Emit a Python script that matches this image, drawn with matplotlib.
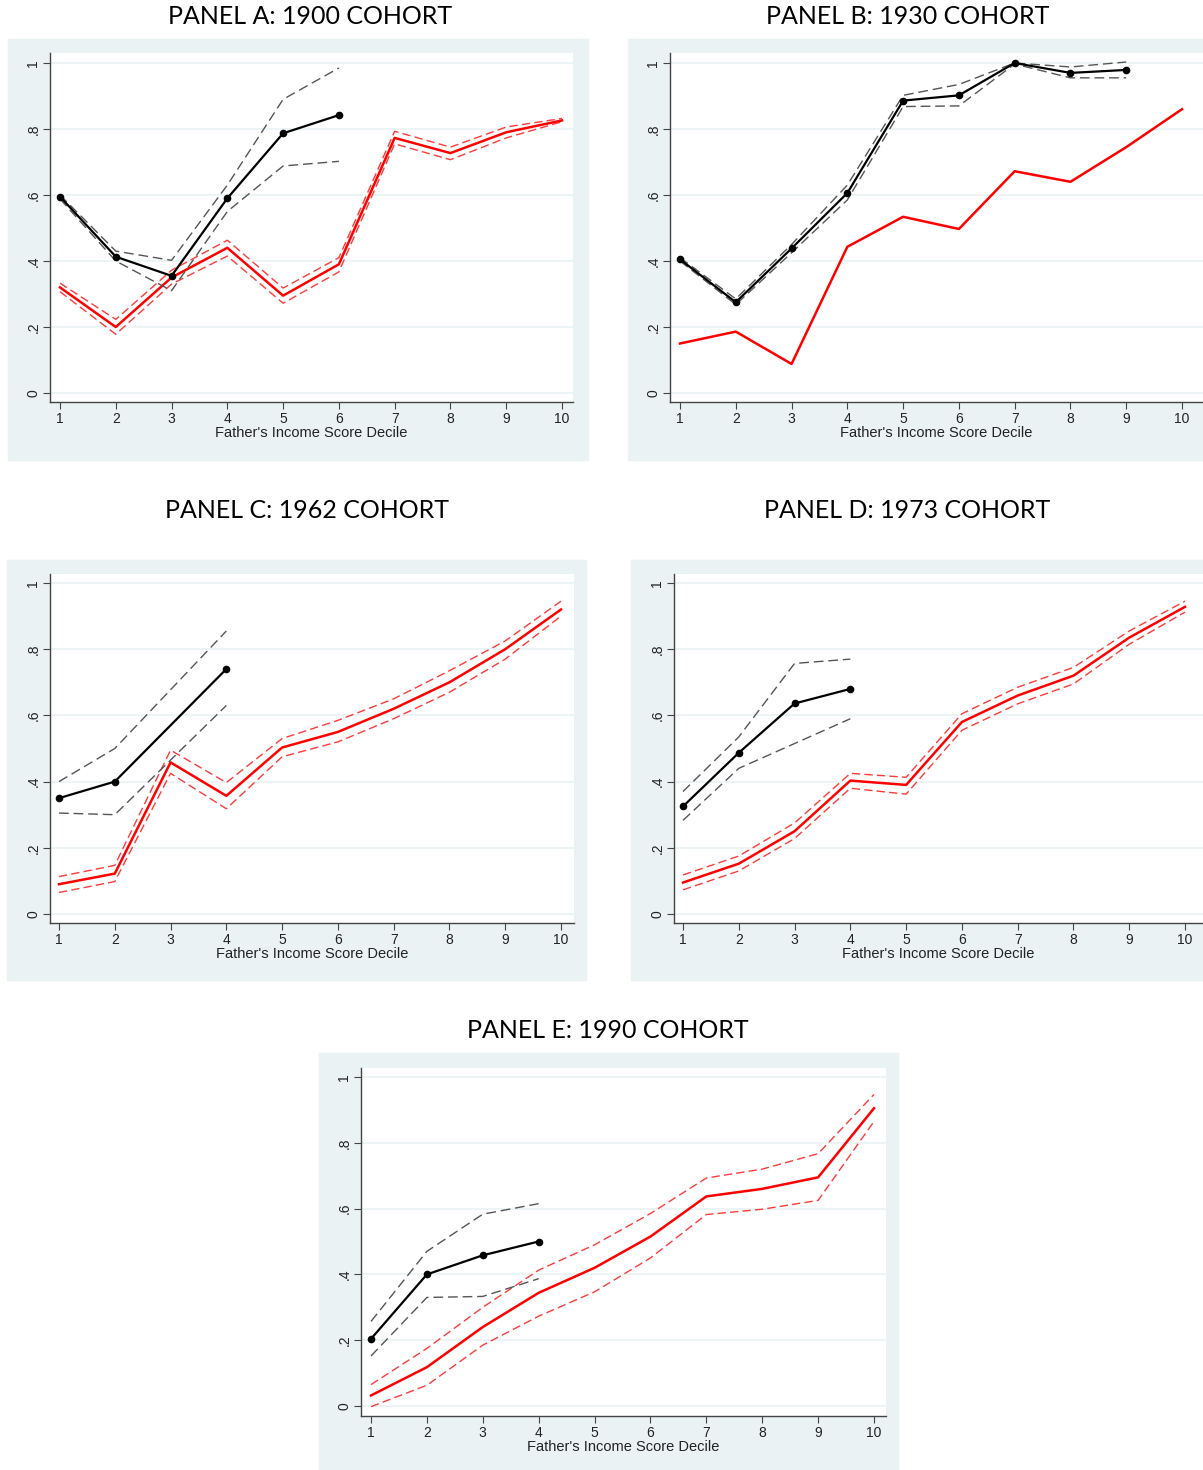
import numpy as np
import matplotlib
matplotlib.use("Agg")
from matplotlib import pyplot as plt
from matplotlib.patches import Rectangle

W, H = 1203, 1470
BG = "#EAF2F3"

deciles = np.arange(1, 11)

# Panel A: 1900 cohort
a_black_x = [1, 2, 3, 4, 5, 6]
a_black = [0.595, 0.413, 0.355, 0.590, 0.787, 0.842]
a_black_hi = [0.600, 0.430, 0.402, 0.630, 0.890, 0.985]
a_black_lo = [0.588, 0.400, 0.310, 0.550, 0.688, 0.702]
a_red = [0.320, 0.200, 0.350, 0.440, 0.295, 0.390, 0.773, 0.727, 0.790, 0.826]
a_red_hi = [0.333, 0.223, 0.372, 0.463, 0.318, 0.410, 0.793, 0.745, 0.806, 0.832]
a_red_lo = [0.307, 0.178, 0.330, 0.415, 0.272, 0.367, 0.755, 0.707, 0.773, 0.822]

# Panel B: 1930 cohort (red band too narrow to show)
b_black_x = [1, 2, 3, 4, 5, 6, 7, 8, 9]
b_black = [0.405, 0.275, 0.438, 0.606, 0.886, 0.902, 1.000, 0.970, 0.979]
b_black_hi = [0.410, 0.285, 0.450, 0.630, 0.902, 0.935, 1.000, 0.988, 1.003]
b_black_lo = [0.400, 0.268, 0.425, 0.585, 0.868, 0.870, 0.997, 0.955, 0.955]
b_red = [0.150, 0.186, 0.088, 0.443, 0.534, 0.497, 0.672, 0.640, 0.745, 0.860]

# Panel C: 1962 cohort
c_black_x = [1, 2, 4]
c_black = [0.350, 0.400, 0.740]
c_black_hi = [0.400, 0.500, 0.855]
c_black_lo = [0.305, 0.300, 0.630]
c_red = [0.090, 0.122, 0.458, 0.357, 0.503, 0.550, 0.620, 0.700, 0.800, 0.920]
c_red_hi = [0.113, 0.147, 0.495, 0.397, 0.530, 0.585, 0.650, 0.735, 0.825, 0.945]
c_red_lo = [0.065, 0.098, 0.425, 0.318, 0.475, 0.520, 0.590, 0.670, 0.770, 0.900]

# Panel D: 1973 cohort
d_black_x = [1, 2, 3, 4]
d_black = [0.325, 0.487, 0.636, 0.680]
d_black_hi = [0.370, 0.535, 0.757, 0.770]
d_black_lo = [0.283, 0.440, 0.515, 0.590]
d_red = [0.095, 0.152, 0.250, 0.403, 0.390, 0.580, 0.660, 0.720, 0.835, 0.928]
d_red_hi = [0.118, 0.175, 0.275, 0.425, 0.413, 0.605, 0.685, 0.745, 0.855, 0.945]
d_red_lo = [0.073, 0.130, 0.228, 0.380, 0.362, 0.555, 0.635, 0.695, 0.815, 0.912]

# Panel E: 1990 cohort
e_black_x = [1, 2, 3, 4]
e_black = [0.204, 0.400, 0.458, 0.500]
e_black_hi = [0.257, 0.470, 0.583, 0.615]
e_black_lo = [0.152, 0.330, 0.333, 0.387]
e_red = [0.032, 0.118, 0.240, 0.344, 0.420, 0.515, 0.637, 0.660, 0.695, 0.905]
e_red_hi = [0.065, 0.175, 0.300, 0.413, 0.490, 0.585, 0.693, 0.720, 0.767, 0.947]
e_red_lo = [-0.002, 0.063, 0.185, 0.273, 0.347, 0.450, 0.582, 0.598, 0.625, 0.865]

yticks = [0, 0.2, 0.4, 0.6, 0.8, 1.0]
ytick_labels = ["0", ".2", ".4", ".6", ".8", "1"]

fig = plt.figure(figsize=(W / 100, H / 100), dpi=100)
fig.patch.set_facecolor("white")


def panel(title, title_xy, bg_box, plot_box, x1px, x10px, y0px, y1px):
    # grey-blue graph region behind the white plot region
    l, t, r, b = bg_box
    fig.patches.append(Rectangle((l / W, 1 - b / H), (r - l) / W, (b - t) / H,
                                 transform=fig.transFigure, color=BG, zorder=-10))
    fig.text(title_xy[0] / W, 1 - title_xy[1] / H, title, ha="center", va="center",
             fontsize=18, family="Lato")
    l, t, r, b = plot_box
    ax = fig.add_axes([l / W, 1 - b / H, (r - l) / W, (b - t) / H])
    ux = (x10px - x1px) / 9
    uy = y0px - y1px
    ax.set_xlim(1 - (x1px - l) / ux, 10 + (r - x10px) / ux)
    ax.set_ylim(-(b - y0px) / uy, 1 + (y1px - t) / uy)
    ax.set_facecolor("white")
    for s in ["top", "right"]:
        ax.spines[s].set_visible(False)
    for s in ["left", "bottom"]:
        ax.spines[s].set_color("#444444")
        ax.spines[s].set_linewidth(1.0)
    ax.set_xticks(deciles)
    ax.set_yticks(yticks)
    ax.set_yticklabels(ytick_labels, rotation=90, va="center")
    ax.tick_params(direction="out", length=5, width=0.8, color="#444444",
                   labelsize=10, labelcolor="#222222", pad=2)
    for lab in ax.get_xticklabels() + ax.get_yticklabels():
        lab.set_family("Liberation Sans")
    ax.set_xlabel("Father's Income Score Decile", fontsize=10.5,
                  family="Liberation Sans", color="#222222", labelpad=0)
    ax.grid(axis="y", color=BG, lw=1.2)
    ax.set_axisbelow(True)
    return ax


def draw(ax, bx, bm, bhi, blo, rm, rhi=None, rlo=None):
    if rhi is not None:
        ax.plot(deciles, rhi, color="#FF3B3B", lw=1.0, ls=(0, (6, 3)))
        ax.plot(deciles, rlo, color="#FF3B3B", lw=1.0, ls=(0, (6, 3)))
    ax.plot(deciles, rm, color="#FF0000", lw=1.8)
    ax.plot(bx, bhi, color="#555555", lw=1.0, ls=(0, (7, 3.5)))
    ax.plot(bx, blo, color="#555555", lw=1.0, ls=(0, (7, 3.5)))
    ax.plot(bx, bm, color="black", lw=1.6, marker="o", markersize=4.5)


ax_a = panel("PANEL A: 1900 COHORT", (310, 17), (8, 39, 588, 460),
             (50, 53, 573, 402), 60, 562, 393, 63)
draw(ax_a, a_black_x, a_black, a_black_hi, a_black_lo, a_red, a_red_hi, a_red_lo)

ax_b = panel("PANEL B: 1930 COHORT", (908, 17), (628, 39, 1203, 460),
             (670, 53, 1203, 402), 680, 1182, 393, 63)
draw(ax_b, b_black_x, b_black, b_black_hi, b_black_lo, b_red)

ax_c = panel("PANEL C: 1962 COHORT", (307, 511), (7, 560, 586, 980),
             (50, 574, 574, 923), 59, 561, 914, 583)
draw(ax_c, c_black_x, c_black, c_black_hi, c_black_lo, c_red, c_red_hi, c_red_lo)

ax_d = panel("PANEL D: 1973 COHORT", (907, 511), (631, 560, 1203, 980),
             (674, 574, 1203, 923), 683, 1185, 914, 583)
draw(ax_d, d_black_x, d_black, d_black_hi, d_black_lo, d_red, d_red_hi, d_red_lo)

ax_e = panel("PANEL E: 1990 COHORT", (608, 1030), (319, 1053, 898, 1470),
             (361, 1068, 886, 1416), 371, 874, 1406, 1077)
draw(ax_e, e_black_x, e_black, e_black_hi, e_black_lo, e_red, e_red_hi, e_red_lo)

fig.savefig("out.png", dpi=100)
